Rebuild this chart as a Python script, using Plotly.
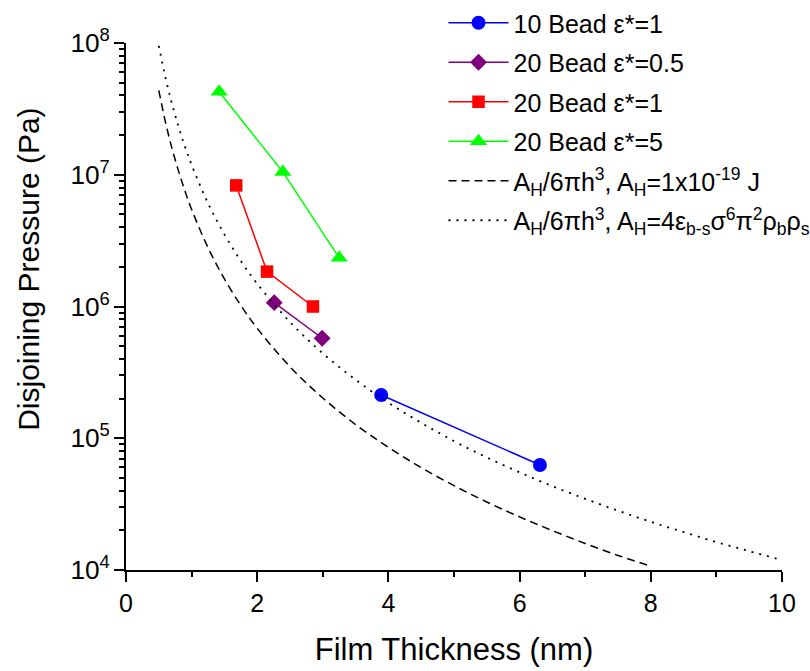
import plotly.graph_objects as go

# ---- data ----
bead10_e1_x = [3.89, 6.31]
bead10_e1_y = [2.13e5, 6.27e4]

bead20_e05_x = [2.26, 2.99]
bead20_e05_y = [1.07e6, 5.74e5]

bead20_e1_x = [1.68, 2.15, 2.85]
bead20_e1_y = [8.3e6, 1.84e6, 1.0e6]

bead20_e5_x = [1.42, 2.39, 3.25]
bead20_e5_y = [4.27e7, 1.05e7, 2.34e6]

hamaker1_x = [0.5, 0.6, 0.7, 0.8, 0.9, 1.0, 1.25, 1.5, 1.75, 2.0, 2.5, 3.0, 3.5,
              4.0, 4.5, 5.0, 5.5, 6.0, 6.5, 7.0, 7.5, 8.0]
hamaker1_y = [4.37e7, 2.53e7, 1.59e7, 1.07e7, 7.49e6, 5.46e6, 2.80e6, 1.62e6,
              1.02e6, 6.83e5, 3.49e5, 2.02e5, 1.27e5, 8.53e4, 5.99e4, 4.37e4,
              3.28e4, 2.53e4, 1.99e4, 1.59e4, 1.29e4, 1.07e4]

hamaker2_x = [0.5, 0.6, 0.7, 0.8, 0.9, 1.0, 1.25, 1.5, 1.75, 2.0, 2.5, 3.0, 3.5,
              4.0, 4.5, 5.0, 5.5, 6.0, 6.5, 7.0, 7.5, 8.0, 8.5, 9.0, 9.5, 10.0]
hamaker2_y = [9.52e7, 5.51e7, 3.47e7, 2.32e7, 1.63e7, 1.19e7, 6.09e6, 3.53e6,
              2.22e6, 1.49e6, 7.62e5, 4.41e5, 2.78e5, 1.86e5, 1.31e5, 9.52e4,
              7.15e4, 5.51e4, 4.33e4, 3.47e4, 2.82e4, 2.32e4, 1.94e4, 1.63e4,
              1.39e4, 1.19e4]

names = [
    "10 Bead \u03b5*=1",
    "20 Bead \u03b5*=0.5",
    "20 Bead \u03b5*=1",
    "20 Bead \u03b5*=5",
    "A<sub>H</sub>/6\u03c0h<sup>3</sup>, A<sub>H</sub>=1x10<sup>-19</sup> J",
    "A<sub>H</sub>/6\u03c0h<sup>3</sup>, A<sub>H</sub>=4\u03b5<sub>b-s</sub>\u03c3<sup>6</sup>\u03c0<sup>2</sup>\u03c1<sub>b</sub>\u03c1<sub>s</sub>",
]

x_title = "Film Thickness (nm)"
y_title = "Disjoining Pressure (Pa)"

FONT = "Arial, Liberation Sans, sans-serif"

fig = go.Figure()

series = [
    (bead10_e1_x, bead10_e1_y, "#0000FF", "circle", 14),
    (bead20_e05_x, bead20_e05_y, "#800080", "diamond", 13),
    (bead20_e1_x, bead20_e1_y, "#FF0000", "square", 12.5),
    (bead20_e5_x, bead20_e5_y, "#00FF00", "triangle-up", 15),
]
for i, (xs, ys, col, sym, sz) in enumerate(series):
    fig.add_trace(go.Scatter(
        x=xs, y=ys, mode="lines+markers", name=names[i],
        line=dict(color=col, width=1.5),
        marker=dict(color=col, symbol=sym, size=sz, line=dict(width=0)),
        legendgroup=f"g{i}",
    ))

fig.add_trace(go.Scatter(
    x=hamaker1_x, y=hamaker1_y, mode="lines", name=names[4],
    line=dict(color="black", width=1.5, dash="8px,5px", shape="spline"),
    legendgroup="g4",
))
fig.add_trace(go.Scatter(
    x=hamaker2_x, y=hamaker2_y, mode="lines", name=names[5],
    line=dict(color="black", width=1.8, dash="2px,6px", shape="spline"),
    legendgroup="g5",
))

fig.update_layout(
    width=810, height=671,
    margin=dict(l=126, r=28, t=43, b=101, autoexpand=False),
    paper_bgcolor="white", plot_bgcolor="white",
    font=dict(family=FONT, color="black"),
    showlegend=True,
    legend=dict(
        x=0.484, y=1.0, xanchor="left", yanchor="top", yref="container",
        font=dict(family=FONT, size=25, color="black"),
        bgcolor="rgba(0,0,0,0)", borderwidth=0,
        itemwidth=60, tracegroupgap=4,
    ),
    annotations=[dict(
        text=y_title, textangle=-90, xref="paper", yref="paper",
        x=-0.149, y=0.57, xanchor="center", yanchor="middle", showarrow=False,
        font=dict(family=FONT, size=30, color="black"),
    )],
)

fig.update_xaxes(
    range=[0, 10], dtick=2, tick0=0,
    showgrid=False, zeroline=False,
    showline=True, linecolor="black", linewidth=2,
    ticks="outside", ticklen=10, tickwidth=2, tickcolor="black",
    tickfont=dict(family=FONT, size=25, color="black"),
    minor=dict(ticks="outside", ticklen=5, tickwidth=2, tickcolor="black", dtick=1, showgrid=False),
    title=dict(text=x_title, font=dict(family=FONT, size=31, color="black"), standoff=22),
)
fig.update_yaxes(
    type="log", range=[4, 8], dtick=1,
    exponentformat="power", showexponent="all",
    showgrid=False, zeroline=False,
    showline=True, linecolor="black", linewidth=2,
    ticks="outside", ticklen=10, tickwidth=2, tickcolor="black",
    tickfont=dict(family=FONT, size=21, color="black"),
    minor=dict(ticks="outside", ticklen=5, tickwidth=2, tickcolor="black", dtick="D1", showgrid=False),
)

fig.write_html("out.html")
